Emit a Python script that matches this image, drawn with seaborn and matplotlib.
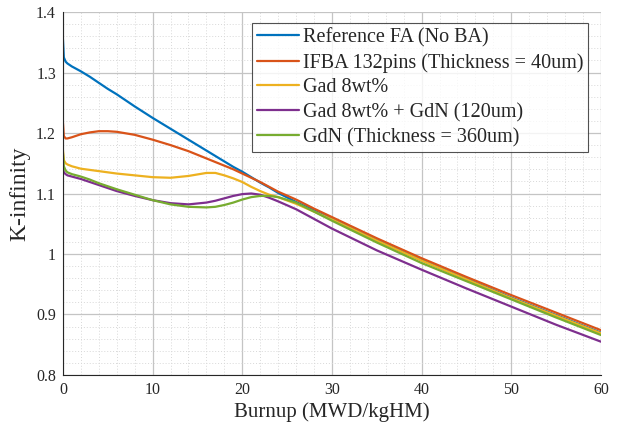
import numpy as np
import pandas as pd
import matplotlib
import matplotlib.pyplot as plt
import seaborn as sns
from matplotlib.ticker import MultipleLocator, FuncFormatter

# burnup points (MWD/kgHM)
burnup = [0, 0.1, 0.3, 0.5, 1, 2, 3, 4, 5, 6, 8, 10, 12, 14, 16, 17, 18, 19,
          20, 21, 22, 23, 24, 26, 28, 30, 35, 40, 45, 50, 55, 60]

ref_fa = [1.355, 1.325, 1.318, 1.315, 1.310, 1.302, 1.293, 1.283, 1.273, 1.264,
          1.244, 1.225, 1.207, 1.189, 1.171, 1.162, 1.153, 1.144, 1.136, 1.127,
          1.118, 1.110, 1.101, 1.086, 1.072, 1.058, 1.023, 0.990, 0.959, 0.928,
          0.899, 0.870]
ifba = [1.217, 1.195, 1.191, 1.191, 1.193, 1.198, 1.201, 1.203, 1.203, 1.202,
        1.197, 1.189, 1.180, 1.170, 1.158, 1.152, 1.146, 1.140, 1.133, 1.126,
        1.119, 1.111, 1.103, 1.090, 1.075, 1.061, 1.026, 0.993, 0.962, 0.932,
        0.903, 0.874]
gad8 = [1.172, 1.155, 1.150, 1.148, 1.145, 1.141, 1.139, 1.137, 1.135, 1.133,
        1.130, 1.127, 1.126, 1.129, 1.134, 1.134, 1.130, 1.125, 1.119, 1.111,
        1.104, 1.098, 1.094, 1.083, 1.070, 1.057, 1.022, 0.989, 0.958, 0.927,
        0.898, 0.869]
gad8_gdn = [1.142, 1.135, 1.132, 1.130, 1.128, 1.124, 1.119, 1.114, 1.109, 1.104,
            1.096, 1.089, 1.084, 1.082, 1.085, 1.088, 1.092, 1.096, 1.099, 1.100,
            1.098, 1.093, 1.087, 1.074, 1.058, 1.042, 1.006, 0.974, 0.943, 0.913,
            0.883, 0.855]
gdn = [1.167, 1.145, 1.138, 1.135, 1.132, 1.128, 1.123, 1.117, 1.112, 1.107,
       1.098, 1.089, 1.082, 1.078, 1.077, 1.078, 1.081, 1.085, 1.090, 1.094,
       1.096, 1.096, 1.094, 1.085, 1.070, 1.055, 1.019, 0.985, 0.955, 0.925,
       0.895, 0.866]

labels = ["Reference FA (No BA)", "IFBA 132pins (Thickness = 40um)", "Gad 8wt%",
          "Gad 8wt% + GdN (120um)", "GdN (Thickness = 360um)"]
colors = ["#0072BD", "#D95319", "#EDB120", "#7E2F8E", "#77AC30"]

rows = []
for lab, vals in zip(labels, [ref_fa, ifba, gad8, gad8_gdn, gdn]):
    for b, k in zip(burnup, vals):
        rows.append({"Burnup": b, "K": k, "Case": lab})
df = pd.DataFrame(rows)

sns.set_style("white")
plt.rcParams["font.family"] = ["Liberation Serif", "DejaVu Serif"]

fig = plt.figure(figsize=(6.17, 4.30), dpi=100)
ax = fig.add_axes([0.102, 0.128, 0.872, 0.844])

sns.lineplot(data=df, x="Burnup", y="K", hue="Case", hue_order=labels,
             palette=colors, linewidth=1.6, ax=ax, sort=False)

ax.set_xlim(0, 60)
ax.set_ylim(0.8, 1.4)
ax.xaxis.set_major_locator(MultipleLocator(10))
ax.xaxis.set_minor_locator(MultipleLocator(2))
ax.yaxis.set_major_locator(MultipleLocator(0.1))
ax.yaxis.set_minor_locator(MultipleLocator(0.02))
ax.yaxis.set_major_formatter(FuncFormatter(lambda v, p: "%g" % round(v, 2)))
ax.grid(which="major", color="#c4c4c4", linewidth=0.9, linestyle="-")
ax.grid(which="minor", color="#d8d8d8", linewidth=0.7, linestyle=(0, (1, 2)))
ax.set_axisbelow(True)
ax.tick_params(which="both", direction="in", labelsize=11.5, colors="#262626")
ax.tick_params(which="major", length=4, pad=5)
ax.tick_params(which="minor", length=0)
for s in ["top", "right"]:
    ax.spines[s].set_visible(False)
for s in ["left", "bottom"]:
    ax.spines[s].set_color("#262626")
    ax.spines[s].set_linewidth(0.8)

ax.set_xlabel("Burnup (MWD/kgHM)", fontsize=15, color="#262626", labelpad=3)
ax.set_ylabel("K-infinity", fontsize=17, color="#262626", labelpad=4)

leg = ax.legend(loc="upper right", bbox_to_anchor=(0.976, 0.970), fontsize=14.5,
                frameon=True, fancybox=False, edgecolor="#262626",
                handlelength=2.1, handletextpad=0.15, borderpad=0.25,
                labelspacing=0.28, borderaxespad=0.0)
leg.get_frame().set_linewidth(0.8)
leg.set_title(None)

fig.savefig("out.png", dpi=100)
